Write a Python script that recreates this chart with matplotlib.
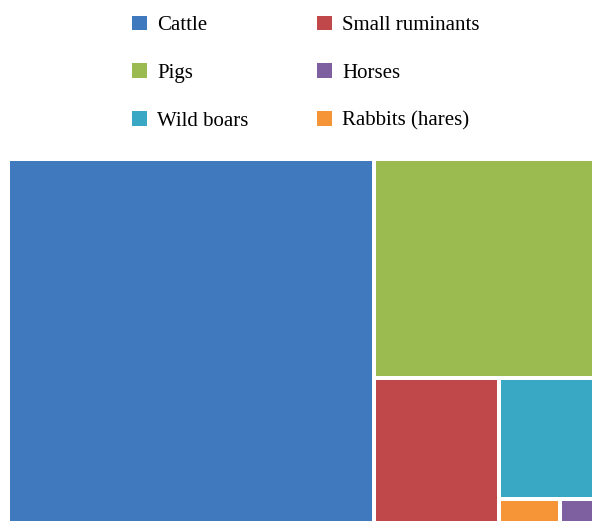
import matplotlib.pyplot as plt
from matplotlib.patches import Rectangle, Patch

# treemap data (share of total, %)
categories = ["Cattle", "Pigs", "Small ruminants", "Wild boars", "Rabbits (hares)", "Horses"]
values = [62.5, 22.6, 8.5, 5.4, 0.69, 0.38]
colors = {
    "Cattle": "#4079BD",
    "Pigs": "#9BBB50",
    "Small ruminants": "#C0484A",
    "Wild boars": "#39A8C4",
    "Rabbits (hares)": "#F59537",
    "Horses": "#7E5FA0",
}
legend_order = ["Cattle", "Pigs", "Wild boars", "Small ruminants", "Horses", "Rabbits (hares)"]

W, H = 592, 521
plt.rcParams["font.family"] = ["Liberation Serif", "DejaVu Serif"]


def slice_layout(vals, x, y, w, h):
    """Split along the longer side, one item at a time."""
    rects = []
    total = float(sum(vals))
    for i, v in enumerate(vals):
        if i == len(vals) - 1:
            rects.append((x, y, w, h))
            break
        frac = v / total
        if w >= h:
            dw = w * frac
            rects.append((x, y, dw, h))
            x += dw
            w -= dw
        else:
            dh = h * frac
            rects.append((x, y, w, dh))
            y += dh
            h -= dh
        total -= v
    return rects


fig = plt.figure(figsize=(W / 100, H / 100), dpi=100)
ax = fig.add_axes([0, 0, 1, 1])
ax.set_xlim(0, W)
ax.set_ylim(H, 0)
ax.axis("off")

gap = 2
for name, (x, y, w, h) in zip(categories, slice_layout(values, 8, 159, 586, 364)):
    ax.add_patch(Rectangle((x + gap, y + gap), w - 2 * gap, h - 2 * gap,
                           facecolor=colors[name], edgecolor="none"))

handles = [Patch(facecolor=colors[n], edgecolor="none", label=n) for n in legend_order]
fig.legend(handles=handles, ncol=2, loc="upper center", bbox_to_anchor=(0.5165, 1.006),
           frameon=False, fontsize=15, handlelength=0.72, handleheight=0.72,
           handletextpad=0.5, labelspacing=1.34, columnspacing=3.3)

fig.savefig("out.png", dpi=100, facecolor="white")
